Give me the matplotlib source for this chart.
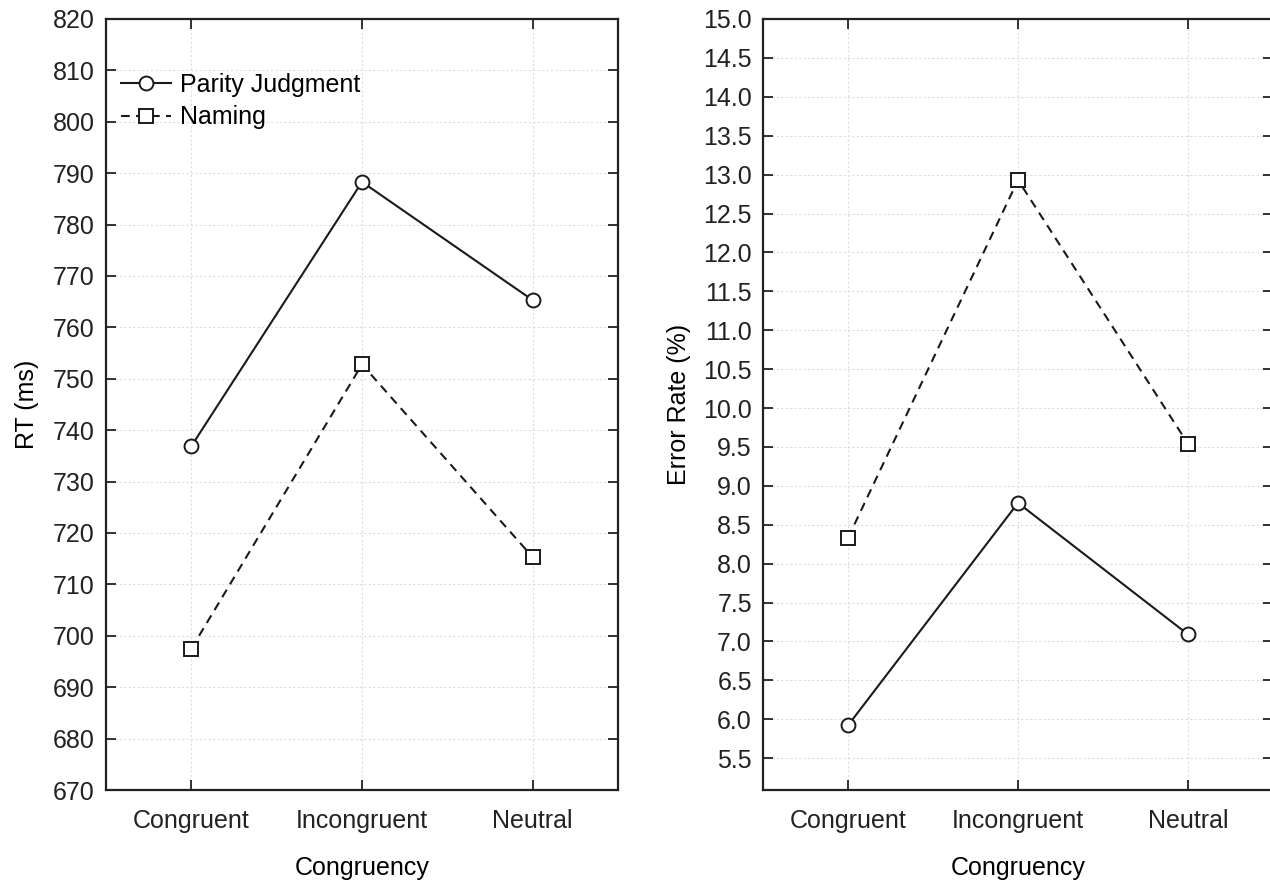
import matplotlib.pyplot as plt

plt.rcParams['font.family'] = ['Liberation Sans', 'DejaVu Sans']

categories = ['Congruent', 'Incongruent', 'Neutral']
rt_parity = [736.9, 788.3, 765.3]
rt_naming = [697.5, 752.8, 715.3]
err_parity = [5.92, 8.78, 7.09]
err_naming = [8.33, 12.93, 9.54]

rt_ticks = list(range(670, 821, 10))
err_ticks = [5.5 + 0.5 * i for i in range(20)]

fig = plt.figure(figsize=(12.7, 8.82), dpi=100)
ax1 = fig.add_axes([106 / 1270, 1 - 790 / 882, 512 / 1270, 771 / 882])
ax2 = fig.add_axes([763 / 1270, 1 - 790 / 882, 510 / 1270, 771 / 882])

x = range(len(categories))
lw = 1.5
dash = (0, (4.2, 3.0))
fs = 18
mk = dict(markersize=10, markerfacecolor='white', markeredgecolor='#1a1a1a',
          markeredgewidth=1.4, color='#1a1a1a', clip_on=False)


def style(ax, ylabel, ypad):
    ax.set_xlim(-0.5, 2.5)
    ax.set_xticks(list(x))
    ax.set_xticklabels(categories)
    ax.set_xlabel('Congruency', fontsize=fs, labelpad=16)
    ax.set_ylabel(ylabel, fontsize=fs, labelpad=ypad)
    ax.tick_params(direction='in', length=7, width=1.3, labelsize=fs,
                   top=True, right=True, colors='#222222')
    ax.tick_params(axis='x', pad=14)
    ax.tick_params(axis='y', pad=8)
    ax.grid(True, linestyle=(0, (2, 2)), color='#dddddd', linewidth=0.8)
    ax.set_axisbelow(True)
    for s in ax.spines.values():
        s.set_linewidth(1.6)
        s.set_color('#222222')


ax1.plot(x, rt_parity, '-', marker='o', lw=lw, label='Parity Judgment', **mk)
ax1.plot(x, rt_naming, linestyle=dash, marker='s', lw=lw, label='Naming', **mk)
ax1.set_ylim(670, 820)
ax1.set_yticks(rt_ticks)
style(ax1, 'RT (ms)', 10)
ax1.legend(loc='upper left', frameon=False, fontsize=fs, handlelength=2.0,
           handletextpad=0.35, labelspacing=0.35, borderaxespad=0.2,
           bbox_to_anchor=(0.0, 0.95))

ax2.plot(x, err_parity, '-', marker='o', lw=lw, **mk)
ax2.plot(x, err_naming, linestyle=dash, marker='s', lw=lw, **mk)
ax2.set_ylim(5.09, 15.0)
ax2.set_yticks(err_ticks)
ax2.set_yticklabels([f'{v:.1f}' for v in err_ticks])
style(ax2, 'Error Rate (%)', 9)

fig.savefig('out.png', dpi=100)
